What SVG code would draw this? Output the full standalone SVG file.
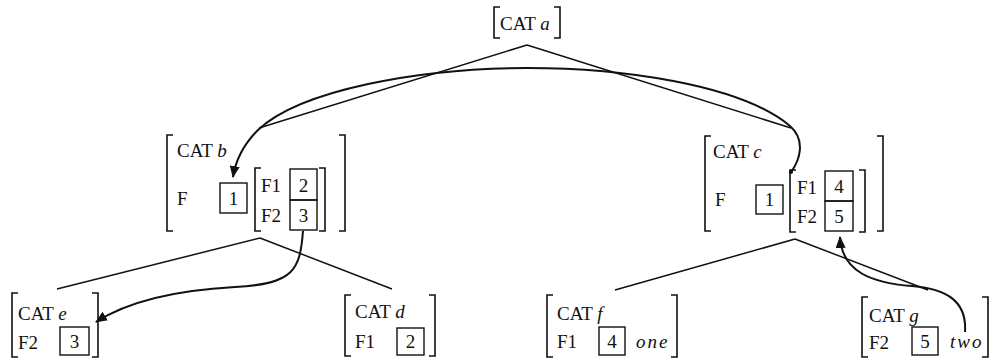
<svg xmlns="http://www.w3.org/2000/svg" width="990" height="361" viewBox="0 0 990 361">
<defs>
<style>
text{font-family:"Liberation Serif","DejaVu Serif",serif;font-size:19px;fill:#111}
.v{font-style:italic}
.d{text-anchor:middle}
.br{fill:none;stroke:#111;stroke-width:1.6}
.bx{fill:none;stroke:#111;stroke-width:1.4}
.ln{fill:none;stroke:#111;stroke-width:1.5}
.cv{fill:none;stroke:#111;stroke-width:2}
</style>
<marker id="ah" viewBox="0 0 12 10" refX="11" refY="5" markerWidth="12" markerHeight="10" markerUnits="userSpaceOnUse" orient="auto">
<path d="M0,0 L12,5 L0,10 Z" fill="#111"/>
</marker>
</defs>
<rect width="990" height="361" fill="#fff"/>

<g id="connectors">
<path class="ln" d="M527,45 L259,128 M527,45 L791,128"/>
<path class="ln" d="M260,238 L57,289 M260,238 L392,289"/>
<path class="ln" d="M795,239 L615,290 M795,239 L928,290"/>
<path class="cv" marker-end="url(#ah)" d="M791,172 C800,160 806,140 790,126 C740,84 620,68 527,68 C420,68 300,90 258,130 C245,143 236,158 233,177"/>
<circle cx="791" cy="172" r="2" fill="#111"/>
<path class="cv" marker-end="url(#ah)" d="M303,231 C300,270 294,284 235,287 C180,290 130,300 96,322"/>
<path class="cv" marker-end="url(#ah)" d="M965,332 C967,302 948,289 912,286 C872,283 842,272 840,237"/>
</g>

<g id="node-a">
<path class="br" d="M500,7 H494 V38 H500 M554,7 H560 V38 H554"/>
<text x="500" y="30">CAT <tspan class="v">a</tspan></text>
</g>

<g id="node-b">
<path class="br" d="M173,135 H167 V231 H173 M339,135 H345 V231 H339"/>
<text x="177" y="157">CAT <tspan class="v">b</tspan></text>
<text x="177" y="205">F</text>
<rect class="bx" x="220" y="183" width="27" height="30"/>
<text class="d" x="233.5" y="205">1</text>
<path class="br" d="M261,168 H255 V231 H261 M319,168 H325 V231 H319"/>
<text x="261" y="192">F1</text>
<text x="261" y="222">F2</text>
<rect class="bx" x="290" y="169" width="27" height="31"/>
<rect class="bx" x="290" y="200" width="27" height="30"/>
<text class="d" x="303.5" y="192">2</text>
<text class="d" x="303.5" y="222">3</text>
</g>

<g id="node-c">
<path class="br" d="M711,136 H705 V231 H711 M877,136 H883 V231 H877"/>
<text x="713" y="158">CAT <tspan class="v">c</tspan></text>
<text x="715" y="206">F</text>
<rect class="bx" x="756" y="185" width="27" height="29"/>
<text class="d" x="769.5" y="206">1</text>
<path class="br" d="M796,170 H790 V232 H796 M859,170 H865 V232 H859"/>
<text x="797" y="194">F1</text>
<text x="797" y="223">F2</text>
<rect class="bx" x="825" y="171" width="28" height="30"/>
<rect class="bx" x="825" y="201" width="28" height="30"/>
<text class="d" x="839" y="193">4</text>
<text class="d" x="839" y="223">5</text>
</g>

<g id="node-e">
<path class="br" d="M18,293 H12 V357 H18 M92,293 H98 V357 H92"/>
<text x="18" y="320">CAT <tspan class="v">e</tspan></text>
<text x="18" y="349">F2</text>
<rect class="bx" x="60" y="327" width="29" height="28"/>
<text class="d" x="74.5" y="348">3</text>
</g>

<g id="node-d">
<path class="br" d="M351,295 H345 V356 H351 M429,295 H435 V356 H429"/>
<text x="355" y="318">CAT <tspan class="v">d</tspan></text>
<text x="355" y="348">F1</text>
<rect class="bx" x="397" y="328" width="27" height="27"/>
<text class="d" x="410.5" y="348">2</text>
</g>

<g id="node-f">
<path class="br" d="M553,295 H547 V357 H553 M671,295 H677 V357 H671"/>
<text x="557" y="320">CAT <tspan class="v">f</tspan></text>
<text x="557" y="348">F1</text>
<rect class="bx" x="599" y="327" width="26" height="28"/>
<text class="d" x="612" y="348">4</text>
<text class="v" x="636" y="348" letter-spacing="2">one</text>
</g>

<g id="node-g">
<path class="br" d="M868,297 H862 V357 H868 M982,297 H988 V357 H982"/>
<text x="869" y="322">CAT <tspan class="v">g</tspan></text>
<text x="869" y="349">F2</text>
<rect class="bx" x="912" y="327" width="26" height="28"/>
<text class="d" x="925" y="348">5</text>
<text class="v" x="950" y="348" letter-spacing="2">two</text>
</g>
</svg>
